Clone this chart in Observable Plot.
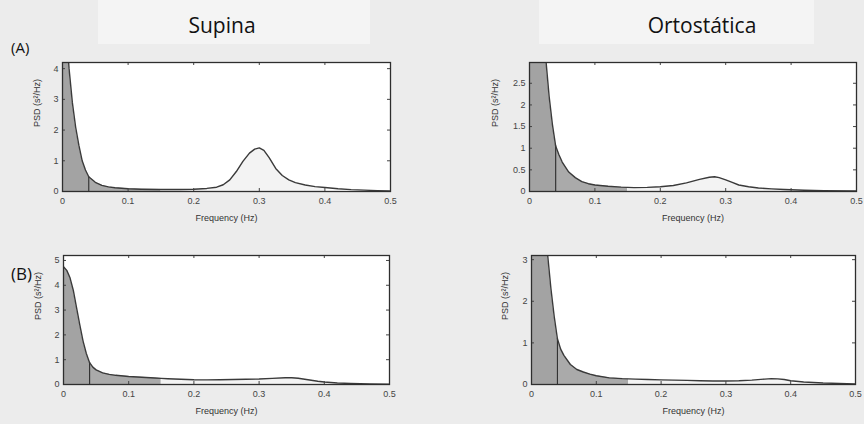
<!DOCTYPE html>
<html><head><meta charset="utf-8">
<script src="https://cdn.jsdelivr.net/npm/d3@7"></script>
<script src="https://cdn.jsdelivr.net/npm/@observablehq/plot@0.6"></script>
<style>
body{margin:0;background:#ececec;width:864px;height:424px;position:relative;overflow:hidden;font-family:"Open Sans",sans-serif}
.box{position:absolute;background:#f4f4f4;top:0;height:44px}
.title{position:absolute;font-size:21px;color:#111;transform:translate(-50%,-50%);white-space:nowrap}
.lab{position:absolute;font-size:15px;color:#111;transform:translateY(-50%)}
.panel{position:absolute}
</style></head><body>
<div class="box" style="left:98px;width:272px"></div>
<div class="box" style="left:539px;width:275px"></div>
<div class="title" style="left:222px;top:25px">Supina</div>
<div class="title" style="left:702px;top:25px">Ortostática</div>
<div class="lab" style="left:11px;top:47px">(A)</div>
<div class="lab" style="left:11px;top:273px;font-size:17px">(B)</div>
<div id="p1" class="panel" style="left:0;top:52px"></div>
<div id="p2" class="panel" style="left:440px;top:52px"></div>
<div id="p3" class="panel" style="left:0;top:245px"></div>
<div id="p4" class="panel" style="left:440px;top:245px"></div>
<script>
// Frequency ticks
const xTicks = [0, 0.1, 0.2, 0.3, 0.4, 0.5];
// Band limits (Hz): VLF / LF / HF
const bands = [0, 0.04, 0.15, 0.4];

// (A) Supina
const freqA_sup = [0,0.005,0.01,0.015,0.02,0.025,0.03,0.035,0.04,0.05,0.06,0.07,0.08,0.1,0.12,0.15,0.18,0.2,0.22,0.235,0.245,0.255,0.265,0.275,0.285,0.293,0.3,0.307,0.315,0.325,0.335,0.345,0.355,0.37,0.385,0.4,0.42,0.44,0.46,0.48,0.5];
const psdA_sup  = [8,5.5,4.0,2.9,2.1,1.5,1.0,0.7,0.48,0.3,0.2,0.15,0.12,0.09,0.075,0.065,0.065,0.075,0.1,0.14,0.22,0.38,0.65,0.98,1.25,1.38,1.42,1.34,1.1,0.75,0.52,0.38,0.29,0.21,0.16,0.13,0.09,0.06,0.045,0.03,0.02];
const yTicksA_sup = [0,1,2,3,4];

// (A) Ortostática
const freqA_ort = [0,0.01,0.02,0.025,0.03,0.035,0.04,0.045,0.05,0.06,0.07,0.08,0.09,0.1,0.12,0.14,0.15,0.16,0.18,0.2,0.22,0.24,0.26,0.275,0.283,0.29,0.3,0.31,0.32,0.335,0.35,0.37,0.39,0.4,0.42,0.45,0.5];
const psdA_ort  = [8,5.5,3.8,3.05,2.2,1.55,1.05,0.85,0.68,0.45,0.32,0.23,0.18,0.15,0.12,0.1,0.095,0.09,0.095,0.11,0.14,0.2,0.28,0.33,0.34,0.32,0.27,0.21,0.15,0.11,0.08,0.06,0.045,0.04,0.03,0.02,0.01];
const yTicksA_ort = [0,0.5,1,1.5,2,2.5];

// (B) Supina
const freqB_sup = [0,0.005,0.01,0.015,0.02,0.025,0.03,0.035,0.04,0.045,0.05,0.06,0.07,0.08,0.1,0.12,0.14,0.15,0.16,0.18,0.2,0.22,0.24,0.26,0.28,0.3,0.32,0.34,0.35,0.36,0.37,0.38,0.39,0.4,0.42,0.44,0.47,0.5];
const psdB_sup  = [4.75,4.6,4.3,3.8,3.1,2.4,1.75,1.25,0.88,0.7,0.59,0.47,0.41,0.37,0.32,0.29,0.26,0.245,0.23,0.21,0.19,0.185,0.19,0.2,0.21,0.22,0.245,0.27,0.27,0.25,0.21,0.17,0.13,0.1,0.06,0.04,0.025,0.015];
const yTicksB_sup = [0,1,2,3,4,5];

// (B) Ortostática
const freqB_ort = [0,0.01,0.02,0.025,0.03,0.035,0.04,0.045,0.05,0.06,0.07,0.08,0.09,0.1,0.12,0.14,0.15,0.16,0.18,0.2,0.22,0.24,0.26,0.28,0.3,0.32,0.34,0.36,0.37,0.38,0.39,0.4,0.42,0.45,0.5];
const psdB_ort  = [8,5.5,3.8,3.1,2.3,1.64,1.1,0.85,0.7,0.48,0.36,0.3,0.25,0.21,0.16,0.14,0.135,0.13,0.12,0.11,0.105,0.1,0.09,0.085,0.085,0.09,0.105,0.13,0.14,0.135,0.12,0.09,0.06,0.035,0.015];
const yTicksB_ort = [0,1,2,3];

const xLabel = "Frequency (Hz)";
const yLabel = "PSD (s²/Hz)";

function panel(id, freq, psd, yMax, yTicks, opts) {
  const data = freq.map((f, i) => ({f, p: psd[i]}));
  const inBand = (lo, hi) => data.filter(d => d.f >= lo && d.f <= hi);
  const W = opts.width - opts.ml - opts.mr;
  const H = 129;
  const at004 = data.find(d => d.f === bands[1]);
  const chart = Plot.plot({
    width: opts.width, height: 178,
    marginLeft: opts.ml, marginRight: opts.mr, marginTop: 10, marginBottom: 39,
    x: {domain: [0, 0.5], axis: null},
    y: {domain: [0, yMax], axis: null},
    style: {fontFamily: "Liberation Sans, Arial, sans-serif", fontSize: "9px", color: "#444", background: "transparent", overflow: "visible"},
    marks: [
      Plot.frame({fill: "white"}),
      Plot.areaY(inBand(bands[0], bands[1]), {x: "f", y: "p", fill: "#a3a3a3", clip: true}),
      Plot.areaY(inBand(bands[1], bands[2]), {x: "f", y: "p", fill: "#aaaaaa", clip: true}),
      Plot.areaY(inBand(bands[2], bands[3]), {x: "f", y: "p", fill: "#f3f3f3", clip: true}),
      Plot.ruleX([at004], {x: "f", y1: 0, y2: "p", stroke: "#333", strokeWidth: 1.2, clip: true}),
      Plot.line(data, {x: "f", y: "p", stroke: "#3a3a3a", strokeWidth: 1.4, clip: true}),
      Plot.tickX(xTicks, {x: d => d, insetTop: H - 3, stroke: "#444"}),
      Plot.tickX(xTicks, {x: d => d, insetBottom: H - 3, stroke: "#444"}),
      Plot.tickY(yTicks, {y: d => d, insetRight: W - 3, stroke: "#444"}),
      Plot.tickY(yTicks, {y: d => d, insetLeft: W - 3, stroke: "#444"}),
      Plot.frame({stroke: "#2e2e2e", strokeWidth: 1.3}),
      Plot.axisX({ticks: xTicks, tickSize: 0, tickPadding: 6, tickFormat: d => String(d), label: null, fill: "#444"}),
      Plot.axisY({ticks: yTicks, tickSize: 0, tickPadding: 4, tickFormat: d => String(d), label: null, fill: "#444"}),
      Plot.text([xLabel], {frameAnchor: "bottom", dy: 29, fill: "#333", fontSize: 9}),
      Plot.text([yLabel], {frameAnchor: "left", dx: opts.ydx, rotate: -90, fill: "#333", fontSize: 9})
    ]
  });
  document.getElementById(id).appendChild(chart);
}

panel("p1", freqA_sup, psdA_sup, 4.2, yTicksA_sup, {width: 400, ml: 62, mr: 10, ydx: -25});
panel("p2", freqA_ort, psdA_ort, 2.98, yTicksA_ort, {width: 422, ml: 89, mr: 6, ydx: -34});
panel("p3", freqB_sup, psdB_sup, 5.2, yTicksB_sup, {width: 399, ml: 63, mr: 10, ydx: -25});
panel("p4", freqB_ort, psdB_ort, 3.1, yTicksB_ort, {width: 421, ml: 91, mr: 6, ydx: -26});
</script>
</body></html>
